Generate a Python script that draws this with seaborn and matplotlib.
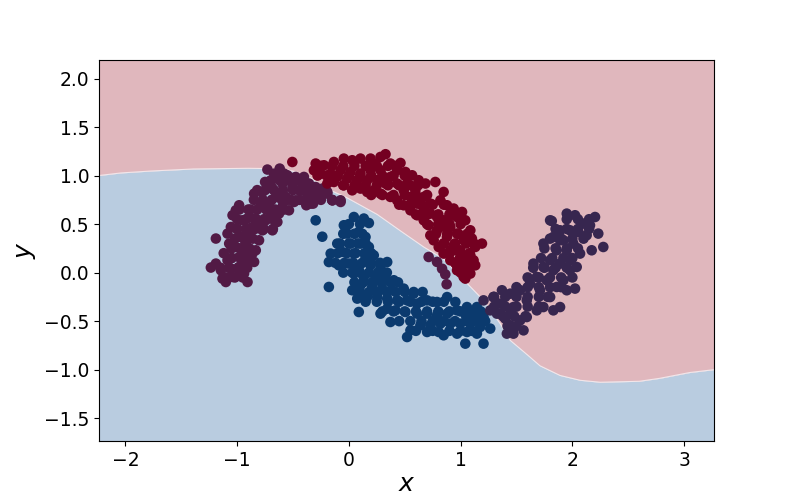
import numpy as np
import pandas as pd
import matplotlib
matplotlib.use("Agg")
import matplotlib.pyplot as plt
import seaborn as sns

# ---- data ----
left_x = [-0.729, -0.619, -0.75, -0.654, -0.55, -0.476, -0.416, -0.357, -0.297, -0.238, -0.193, -0.148, -0.074,
          -0.848, -0.773, -0.684, -0.595, -0.505, -0.446, -0.371, -0.312, -0.381, -0.32, -0.476, -0.565, -0.654,
          -0.714, -0.789, -0.595, -0.536, -0.625, -0.699, -0.64, -0.684, -0.773, -0.833, -0.893, -0.982, -1.012,
          -1.041, -0.952, -1.056, -1.086, -1.19, -0.967, -0.893, -0.863, -0.804, -0.744, -0.923, -1.012, -1.071,
          -0.833, -0.804, -0.893, -0.982, -1.086, -1.19, -1.235, -1.145, -1.056, -0.982, -0.923, -0.848, -1.131,
          -1.041, -0.982, -0.907, -1.101, -0.938, -0.863,
          -0.9, -0.95, -1.0, -0.88, -0.6, -0.45, -0.7, -0.55, -1.12, -1.05, -0.93,
          -0.491, -0.402, -0.357, -0.297, -0.371, -0.238, -0.193, -0.148, -0.074, -0.342, -0.491,
          0.714, 0.789, 0.834, 0.863, 0.875,
          -1.1, -1.02, -0.95, -1.15, -1.07, -0.99, -0.91, -1.05, -0.97, -0.89, -1.05, -0.97, -0.89,
          -1.02, -0.94, -0.86, -1.0, -0.92, -0.84, -0.76, -0.68, -1.0, -0.92, -0.84, -0.76, -0.68,
          -0.98, -0.9, -0.82, -0.74, -0.66, -0.58, -0.85, -0.77, -0.69, -0.6, -0.52, -0.44, -0.25, -0.15,
          -0.82, -0.75, -0.67, -0.59, -0.5, -0.42, -0.34, -0.26, -0.7, -0.62, -0.54, -0.46, -0.67, -0.58]
left_y = [1.062, 1.072, 0.934, 0.986, 1.003, 0.986, 0.934, 0.918, 0.882, 0.866, 0.831, 0.745, 0.728,
          0.814, 0.831, 0.866, 0.918, 0.882, 0.848, 0.814, 0.78, 0.694, 0.711, 0.745, 0.78, 0.78,
          0.711, 0.694, 0.676, 0.642, 0.608, 0.591, 0.522, 0.436, 0.436, 0.557, 0.573, 0.694, 0.642,
          0.591, 0.539, 0.47, 0.402, 0.351, 0.367, 0.402, 0.47, 0.505, 0.539, 0.299, 0.264, 0.299,
          0.23, 0.333, 0.212, 0.161, 0.127, 0.093, 0.052, 0.024, 0.041, 0.058, 0.093, 0.11, -0.062,
          -0.045, -0.028, -0.097, -0.097, -0.01, 0.196,
          0.45, 0.2, 0.45, 0.65, 0.8, 0.95, 0.9, 0.75, 0.2, 0.15, 0.38,
          0.969, 0.986, 0.882, 0.831, 0.78, 0.848, 0.814, 0.745, 0.745, 0.711, 0.728,
          0.161, 0.11, 0.04, -0.018, -0.12,
          -0.05, -0.05, -0.05, 0.05, 0.05, 0.05, 0.05, 0.15, 0.15, 0.15, 0.25, 0.25, 0.25,
          0.35, 0.35, 0.35, 0.45, 0.45, 0.45, 0.45, 0.45, 0.55, 0.55, 0.55, 0.55, 0.55,
          0.65, 0.65, 0.65, 0.65, 0.65, 0.65, 0.75, 0.75, 0.75, 0.75, 0.75, 0.75, 0.75, 0.75,
          0.85, 0.85, 0.85, 0.85, 0.85, 0.85, 0.85, 0.85, 0.95, 0.95, 0.95, 0.95, 1.02, 1.02]

red_x = [-0.506, -0.297, -0.223, -0.134, -0.045, 0.03, 0.104, 0.194, 0.283, 0.328, 0.462, 0.506, 0.566, 0.625,
         0.685, 0.774, 0.848, 0.819, 0.878, 0.938, 1.013, 0.967, 1.042, 1.087, 1.101, 1.191, 1.131, 1.087,
         1.131, 1.057, 1.027, 0.967, 0.908, 0.848, 0.804, 0.759, 0.729, 0.789, 0.714, 0.67, 0.611, 0.551,
         0.491, 0.432, 0.372, 0.283, 0.223, 0.164, 0.104, 0.03, -0.045, -0.134, -0.193, -0.253, -0.313,
         -0.163, -0.074, 0.015, 0.104, 0.194, 0.283, 0.372, 0.432, 0.491, 0.551, 0.611, 0.67, 0.729, 0.789,
         0.848, 0.908, 0.967, 1.027, 0.878, 0.938, 0.997, 0.848, 0.819, 0.729, 0.67, 0.595, 0.521, 0.328,
         0.253, 0.164, 0.075, -0.015, -0.104, 0.432, 0.372, 0.223, 1.057, 0.997, 1.042, 1.087, 0.908, 0.938,
         0.878, 1.042, 0.968, 1.057, 0.997, 0.908, 1.116,
         -0.25, -0.15, -0.05, 0.05, 0.15, 0.25, 0.35, 0.42, -0.28, -0.2, -0.1, 0.0, 0.1, 0.2, 0.3, 0.4, 0.5,
         -0.05, 0.05, 0.15, 0.25, 0.35, 0.45, 0.55, 0.62, 0.2, 0.3, 0.4, 0.5, 0.6, 0.7,
         0.45, 0.55, 0.65, 0.75, 0.85, 0.6, 0.7, 0.8, 0.9, 0.97, 0.7, 0.8, 0.9, 1.0,
         0.78, 0.88, 0.98, 1.06, 0.85, 0.95, 1.05, 1.12, 0.9, 1.0, 1.08, 0.95, 1.03, 1.1, 1.0, 1.08]
red_y = [1.14, 1.124, 1.106, 1.14, 1.175, 1.158, 1.175, 1.175, 1.192, 1.22, 1.13, 1.037, 1.003, 0.952,
         0.918, 0.934, 0.831, 0.745, 0.694, 0.66, 0.625, 0.573, 0.539, 0.436, 0.351, 0.299, 0.264, 0.178,
         0.075, 0.024, -0.045, 0.075, 0.127, 0.196, 0.264, 0.333, 0.384, 0.436, 0.488, 0.539, 0.591, 0.642,
         0.694, 0.745, 0.78, 0.814, 0.848, 0.831, 0.866, 0.848, 0.9, 0.934, 0.918, 1.021, 1.055,
         1.021, 1.055, 1.037, 1.021, 1.055, 1.055, 0.986, 0.918, 0.848, 0.78, 0.711, 0.66, 0.608, 0.573,
         0.539, 0.47, 0.402, 0.333, 0.367, 0.281, 0.23, 0.299, 0.47, 0.711, 0.78, 0.848, 0.918, 0.918,
         0.952, 0.952, 0.952, 0.969, 0.986, 1.055, 1.124, 1.124, 0.161, 0.127, 0.075, -0.01, 0.591, 0.23,
         0.47, -0.062, 0.024, 0.058, 0.161, 0.23, 0.127,
         1.1, 1.1, 1.1, 1.1, 1.1, 1.1, 1.1, 1.1, 1.0, 1.0, 1.0, 1.0, 1.0, 1.0, 1.0, 1.0, 1.0,
         0.9, 0.9, 0.9, 0.9, 0.9, 0.9, 0.9, 0.9, 0.8, 0.8, 0.8, 0.8, 0.8, 0.8,
         0.7, 0.7, 0.7, 0.7, 0.7, 0.6, 0.6, 0.6, 0.6, 0.6, 0.5, 0.5, 0.5, 0.5,
         0.4, 0.4, 0.4, 0.4, 0.3, 0.3, 0.3, 0.3, 0.2, 0.2, 0.2, 0.1, 0.1, 0.1, 0.0, 0.0]

blue_x = [-0.297, -0.238, -0.179, 0.045, 0.134, 0.179, -0.045, -0.015, 0.089, 0.149, -0.104, 0.015, 0.104,
          0.179, -0.163, -0.059, 0.045, 0.149, 0.223, -0.179, -0.089, 0.0, 0.089, 0.194, 0.283, 0.343, 0.045,
          0.134, 0.238, 0.328, 0.402, 0.03, 0.104, 0.209, 0.298, 0.387, 0.491, 0.58, 0.075, 0.089, 0.164,
          0.253, 0.343, 0.432, 0.521, 0.611, 0.7, 0.789, 0.879, 0.953, 0.283, 0.372, 0.417, 0.506, 0.611,
          0.7, 0.789, 0.879, 0.968, 1.057, 1.146, 1.205, 1.265, 0.551, 0.521, 0.64, 0.729, 0.819, 0.908,
          0.997, 1.087, 1.176, 0.848, 0.968, 1.057, 1.146, 1.042, 1.205, 0.7, 0.804, 0.343,
          0.0, 0.1, -0.05, 0.05, 0.12, -0.08, 0.0, 0.08, 0.15, -0.1, -0.02, 0.06, 0.14, 0.2,
          -0.12, -0.04, 0.04, 0.12, 0.2, 0.28, -0.05, 0.03, 0.1, 0.18, 0.26, 0.34,
          0.05, 0.13, 0.21, 0.29, 0.37, 0.44, 0.1, 0.18, 0.26, 0.34, 0.42, 0.5, 0.58, 0.66,
          0.15, 0.25, 0.35, 0.45, 0.55, 0.65, 0.75, 0.85, 0.3, 0.4, 0.5, 0.6, 0.7, 0.8, 0.9, 1.0, 1.1, 1.18,
          0.45, 0.55, 0.65, 0.75, 0.85, 0.95, 1.05, 1.15, 1.22, 0.6, 0.75, 0.9, 1.0, 1.1, 1.05, 1.12]
blue_y = [0.539, 0.37, -0.148, 0.573, 0.557, 0.511, 0.488, 0.402, 0.419, 0.367, 0.299, 0.299, 0.299,
          0.264, 0.196, 0.213, 0.196, 0.161, 0.178, 0.109, 0.075, 0.093, 0.058, 0.075, 0.058, 0.109, -0.01,
          -0.045, -0.045, -0.062, -0.079, -0.182, -0.131, -0.148, -0.165, -0.182, -0.165, -0.217, -0.268,
          -0.406, -0.252, -0.252, -0.268, -0.286, -0.286, -0.32, -0.286, -0.303, -0.252, -0.303, -0.423,
          -0.509, -0.389, -0.406, -0.423, -0.423, -0.44, -0.423, -0.389, -0.355, -0.355, -0.458, -0.577,
          -0.595, -0.664, -0.543, -0.543, -0.526, -0.526, -0.526, -0.526, -0.56, -0.646, -0.629, -0.612,
          -0.629, -0.732, -0.732, -0.612, -0.612, -0.372,
          0.5, 0.5, 0.4, 0.4, 0.4, 0.3, 0.3, 0.3, 0.3, 0.2, 0.2, 0.2, 0.2, 0.2,
          0.1, 0.1, 0.1, 0.1, 0.1, 0.1, 0.0, 0.0, 0.0, 0.0, 0.0, 0.0,
          -0.1, -0.1, -0.1, -0.1, -0.1, -0.1, -0.2, -0.2, -0.2, -0.2, -0.2, -0.2, -0.2, -0.2,
          -0.3, -0.3, -0.3, -0.3, -0.3, -0.3, -0.3, -0.3, -0.4, -0.4, -0.4, -0.4, -0.4, -0.4, -0.4, -0.4, -0.4, -0.4,
          -0.5, -0.5, -0.5, -0.5, -0.5, -0.5, -0.5, -0.5, -0.5, -0.6, -0.6, -0.6, -0.6, -0.6, -0.45, -0.45]

right_x = [1.816, 1.95, 2.024, 2.098, 2.203, 2.158, 2.232, 2.277, 2.173, 2.128, 2.054, 1.979, 1.89, 1.83,
           1.741, 1.92, 2.009, 1.95, 1.86, 2.069, 2.039, 1.979, 1.89, 1.801, 1.652, 1.741, 1.83, 1.92, 2.024,
           1.95, 1.86, 1.771, 1.682, 1.622, 1.711, 1.801, 1.83, 1.741, 1.682, 1.592, 1.533, 1.444, 1.37,
           1.295, 1.205, 1.354, 1.473, 1.592, 1.533, 1.444, 1.354, 1.265, 1.444, 1.473, 1.563, 1.399, 1.89,
           1.801, 1.979, 1.89, 1.295, 1.325, 1.414,
           1.95, 2.05, 2.15, 1.85, 1.95, 2.05, 2.15, 1.8, 1.9, 2.0, 2.1, 1.75, 1.85, 1.95, 2.05,
           1.72, 1.82, 1.92, 2.0, 1.65, 1.75, 1.85, 1.95, 1.6, 1.7, 1.8, 1.9, 2.0,
           1.5, 1.6, 1.7, 1.8, 1.9, 1.3, 1.4, 1.5, 1.6, 1.7, 1.78, 1.3, 1.4, 1.5, 1.6, 1.7,
           1.38, 1.48, 1.58, 1.42, 1.5]
right_y = [0.532, 0.608, 0.591, 0.505, 0.573, 0.488, 0.402, 0.264, 0.23, 0.385, 0.419, 0.436, 0.436, 0.367,
           0.299, 0.333, 0.299, 0.23, 0.23, 0.196, 0.058, 0.024, 0.093, 0.127, 0.093, 0.058, 0.024, -0.079,
           -0.165, -0.182, -0.148, -0.079, -0.045, -0.114, -0.182, -0.252, -0.389, -0.355, -0.389, -0.286,
           -0.182, -0.217, -0.182, -0.252, -0.286, -0.32, -0.355, -0.458, -0.492, -0.423, -0.423, -0.389,
           -0.543, -0.629, -0.595, -0.474, 0.333, 0.539, 0.127, -0.355, -0.252, -0.423, -0.629,
           0.55, 0.55, 0.55, 0.45, 0.45, 0.45, 0.45, 0.35, 0.35, 0.35, 0.35, 0.25, 0.25, 0.25, 0.25,
           0.15, 0.15, 0.15, 0.15, 0.05, 0.05, 0.05, 0.05, -0.05, -0.05, -0.05, -0.05, -0.05,
           -0.15, -0.15, -0.15, -0.15, -0.15, -0.25, -0.25, -0.25, -0.25, -0.25, -0.25, -0.35, -0.35, -0.35, -0.35, -0.35,
           -0.45, -0.45, -0.45, -0.55, -0.55]

# decision boundary
bound_x = [-2.24, -2.04, -1.77, -1.39, -0.9, -0.6, -0.476, -0.357, -0.238, -0.148, -0.015, 0.253, 0.462,
           0.67, 0.848, 1.04, 1.205, 1.354, 1.444, 1.6, 1.71, 1.89, 2.07, 2.25, 2.6, 2.78, 3.05, 3.27]
bound_y = [1.0, 1.027, 1.047, 1.068, 1.075, 1.07, 1.04, 0.986, 0.9, 0.84, 0.77, 0.6, 0.43,
           0.264, 0.14, -0.09, -0.286, -0.526, -0.698, -0.85, -0.96, -1.06, -1.11, -1.13, -1.12, -1.09,
           -1.03, -1.0]

x_ticks = [-2, -1, 0, 1, 2, 3]
y_ticks = [-1.5, -1.0, -0.5, 0.0, 0.5, 1.0, 1.5, 2.0]

# ---- figure ----
fig, ax = plt.subplots(figsize=(7.93, 4.96), dpi=100)
fig.subplots_adjust(left=0.125, right=0.9, top=0.88, bottom=0.11)

xlim = (-2.235, 3.265)
ylim = (-1.74, 2.196)
bx = np.array(bound_x)
by = np.array(bound_y)
ax.fill_between(bx, by, ylim[1], color="#e0b7bd", linewidth=0, zorder=0)
ax.fill_between(bx, ylim[0], by, color="#b9cce0", linewidth=0, zorder=0)
ax.plot(bx, by, color="#f2e6ea", linewidth=0.8, zorder=0.5)

df = pd.concat([
    pd.DataFrame({"x": blue_x, "y": blue_y, "g": "blue"}),
    pd.DataFrame({"x": right_x, "y": right_y, "g": "right"}),
    pd.DataFrame({"x": left_x, "y": left_y, "g": "left"}),
    pd.DataFrame({"x": red_x, "y": red_y, "g": "red"}),
], ignore_index=True)
palette = {"blue": "#0b3a6e", "right": "#37264f", "left": "#521a45", "red": "#740021"}
sns.scatterplot(data=df, x="x", y="y", hue="g", palette=palette, s=58, linewidth=0,
                legend=False, ax=ax, zorder=2)

ax.set_xlim(*xlim)
ax.set_ylim(*ylim)
ax.set_xticks(x_ticks)
ax.set_yticks(y_ticks)
ax.tick_params(labelsize=13.5)
ax.set_xlabel("$x$", fontsize=18, labelpad=1)
ax.set_ylabel("$y$", fontsize=18, labelpad=4)
for sp in ax.spines.values():
    sp.set_color("black")
    sp.set_linewidth(0.8)

fig.savefig("out.png", dpi=100)
